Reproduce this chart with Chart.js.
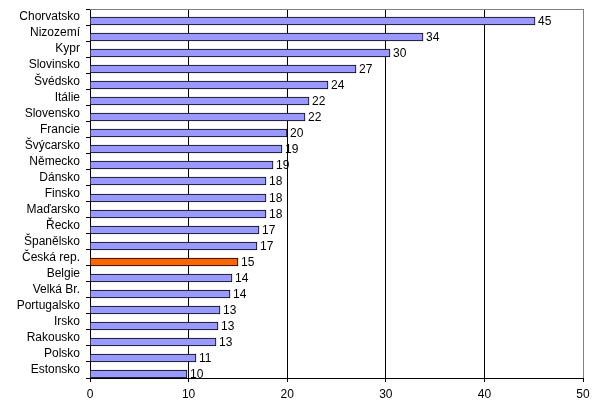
<!DOCTYPE html>
<html>
<head>
<meta charset="utf-8">
<script src="https://cdn.jsdelivr.net/npm/chart.js@4/dist/chart.umd.min.js"></script>
<style>
html,body{margin:0;padding:0;background:#fff;}
canvas{display:block;}
</style>
</head>
<body>
<canvas id="c" width="600" height="415"></canvas>
<script>
const categories = ["Chorvatsko","Nizozemí","Kypr","Slovinsko","Švédsko","Itálie","Slovensko","Francie","Švýcarsko","Německo","Dánsko","Finsko","Maďarsko","Řecko","Španělsko","Česká rep.","Belgie","Velká Br.","Portugalsko","Irsko","Rakousko","Polsko","Estonsko"];
const values = [45.1,33.8,30.4,27.0,24.1,22.2,21.8,20.0,19.45,18.6,17.9,17.9,17.8,17.1,16.9,15.05,14.4,14.2,13.2,13.0,12.8,10.8,9.8];
const highlight = "Česká rep.";
const xTicks = [0,10,20,30,40,50];

const FONT = "'Liberation Sans', Arial, sans-serif";

const labelPlugin = {
  id: 'barLabels',
  beforeDatasetsDraw(chart) {
    // snap bars to whole pixels for crisp borders
    chart.getDatasetMeta(1).data.forEach(bar => {
      const h = Math.round(bar.height);
      const top = Math.round(bar.y - bar.height / 2);
      bar.height = h;
      bar.y = top + h / 2;
      bar.base = Math.round(bar.base - 0.5);
      bar.x = Math.round(bar.x);
    });
  },
  afterDatasetsDraw(chart) {
    const ctx = chart.ctx;
    const meta = chart.getDatasetMeta(1);
    ctx.save();
    ctx.font = "12px " + FONT;
    ctx.fillStyle = '#000';
    ctx.textAlign = 'left';
    ctx.textBaseline = 'middle';
    meta.data.forEach((bar, i) => {
      ctx.fillText(String(Math.round(values[i])), bar.x + 3, bar.y + 0.5);
    });
    ctx.restore();
  },
  afterDraw(chart) {
    const ctx = chart.ctx, a = chart.chartArea;
    ctx.save();
    ctx.strokeStyle = '#808080';
    ctx.lineWidth = 1;
    ctx.beginPath();
    ctx.moveTo(a.left, Math.round(a.top) + 0.5);
    ctx.lineTo(a.right + 1, Math.round(a.top) + 0.5);
    ctx.stroke();
    ctx.restore();
  }
};

new Chart(document.getElementById('c'), {
  type: 'bar',
  data: {
    labels: categories,
    datasets: [
      { data: categories.map(() => null) },
      {
        data: values,
        backgroundColor: categories.map(c => c === highlight ? '#FF6600' : '#9999FF'),
        borderColor: '#000',
        borderWidth: 1,
        borderSkipped: false
      }
    ]
  },
  options: {
    indexAxis: 'y',
    responsive: false,
    animation: false,
    categoryPercentage: 1.0,
    barPercentage: 1.0,
    layout: { padding: { left: 0, right: 17, top: 9, bottom: 0 } },
    plugins: { legend: { display: false }, tooltip: { enabled: false } },
    scales: {
      x: {
        min: 0, max: 50,
        afterFit(s) { s.height = 37; s.paddingLeft = 0; s.paddingRight = 0; },
        afterBuildTicks(s) { s.ticks = xTicks.map(v => ({ value: v })); },
        grid: {
          color: (c) => (c.tick && c.tick.value === 50) ? '#808080' : '#000',
          tickColor: '#000',
          tickLength: 4,
          lineWidth: 1
        },
        border: { color: '#000' },
        ticks: { color: '#000', font: { family: FONT, size: 12 }, padding: 5, maxRotation: 0 }
      },
      y: {
        afterFit(s) { s.width = 90; s.paddingTop = 0; s.paddingBottom = 0; },
        grid: {
          offset: true,
          drawOnChartArea: false,
          drawTicks: true,
          tickLength: 4,
          color: '#000'
        },
        border: { color: '#000' },
        ticks: { color: '#000', font: { family: FONT, size: 12 }, padding: 6, autoSkip: false }
      }
    }
  },
  plugins: [labelPlugin]
});
</script>
</body>
</html>
